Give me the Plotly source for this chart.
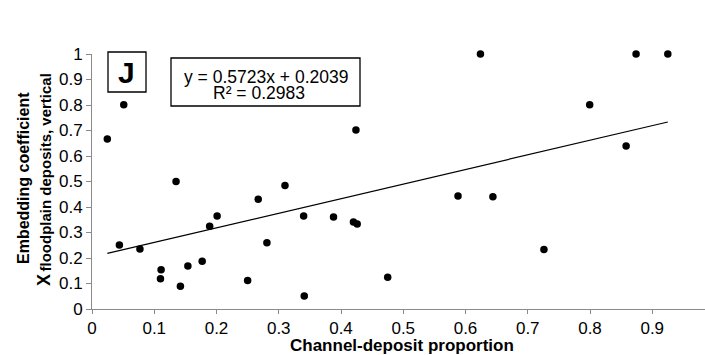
import plotly.graph_objects as go

# Data
x_vals = [0.0246, 0.051, 0.044, 0.077, 0.111, 0.110, 0.135, 0.142, 0.154, 0.177,
          0.189, 0.201, 0.250, 0.267, 0.281, 0.310, 0.340, 0.341, 0.388, 0.420,
          0.426, 0.424, 0.475, 0.588, 0.624, 0.644, 0.726, 0.7995, 0.858, 0.874, 0.925]
y_vals = [0.667, 0.801, 0.251, 0.235, 0.154, 0.119, 0.500, 0.089, 0.169, 0.187,
          0.325, 0.365, 0.112, 0.430, 0.260, 0.484, 0.365, 0.051, 0.361, 0.341,
          0.333, 0.702, 0.125, 0.443, 1.000, 0.440, 0.233, 0.801, 0.639, 1.000, 1.000]
slope = 0.5723
intercept = 0.2039
x_ticks = [0, 0.1, 0.2, 0.3, 0.4, 0.5, 0.6, 0.7, 0.8, 0.9]
x_tick_labels = ["0", "0.1", "0.2", "0.3", "0.4", "0.5", "0.6", "0.7", "0.8", "0.9"]
y_ticks = [0, 0.1, 0.2, 0.3, 0.4, 0.5, 0.6, 0.7, 0.8, 0.9, 1]
y_tick_labels = ["0", "0.1", "0.2", "0.3", "0.4", "0.5", "0.6", "0.7", "0.8", "0.9", "1"]

W, H = 705, 355
L, R, T, B = 92, 0, 54, 46
PW, PH = W - L - R, H - T - B

def px(xp):
    return (xp - L) / PW

def py(yp):
    return (H - B - yp) / PH

FONT = "Liberation Sans, Arial, sans-serif"
AX = "#8a8a8a"

trend_x = [min(x_vals), max(x_vals)]
trend_y = [slope * v + intercept for v in trend_x]

fig = go.Figure()
fig.add_trace(go.Scatter(x=trend_x, y=trend_y, mode="lines",
                         line=dict(color="black", width=1.2), showlegend=False,
                         hoverinfo="skip"))
fig.add_trace(go.Scatter(x=x_vals, y=y_vals, mode="markers",
                         marker=dict(color="black", size=7.5), showlegend=False,
                         cliponaxis=False))

fig.update_layout(
    width=W, height=H,
    margin=dict(l=L, r=R, t=T, b=B),
    paper_bgcolor="white", plot_bgcolor="white",
    font=dict(family=FONT, color="black", size=16),
    xaxis=dict(range=[0, PW / 622.5], tickvals=x_ticks, ticktext=x_tick_labels,
               showline=True, linecolor=AX, linewidth=1, ticks="outside",
               ticklen=4, tickcolor=AX, showgrid=False, zeroline=False,
               tickfont=dict(size=17, family=FONT)),
    yaxis=dict(range=[0, 1], tickvals=y_ticks, ticktext=y_tick_labels,
               showline=True, linecolor=AX, linewidth=1, ticks="outside",
               ticklen=5, tickcolor=AX, showgrid=False, zeroline=False,
               tickfont=dict(size=17, family=FONT)),
)

shapes = [
    dict(type="rect", xref="paper", yref="paper", x0=px(108), x1=px(146),
         y0=py(92), y1=py(52), line=dict(color="black", width=1.3)),
    dict(type="rect", xref="paper", yref="paper", x0=px(171), x1=px(360),
         y0=py(106), y1=py(58), line=dict(color="black", width=1.3)),
]
fig.update_layout(shapes=shapes)

ann = [
    dict(text="<b>J</b>", x=px(126.5), y=py(73), font=dict(size=30)),
    dict(text="y = 0.5723x + 0.2039", x=px(266), y=py(76.5), font=dict(size=17.5)),
    dict(text="R² = 0.2983", x=px(258.5), y=py(93), font=dict(size=17.5)),
    dict(text="<b>Channel-deposit proportion</b>", x=px(402), y=py(345), font=dict(size=17)),
    dict(text="<b>Embedding coefficient</b>", x=px(23), y=py(178), textangle=-90,
         font=dict(size=16)),
    dict(text="<b>X</b>", x=px(44), y=py(280), textangle=-90, font=dict(size=18)),
    dict(text="<b>floodplain deposits, vertical</b>", x=px(44.5), y=py(173), textangle=-90,
         font=dict(size=15)),
]
for a in ann:
    a.update(xref="paper", yref="paper", showarrow=False, xanchor="center", yanchor="middle")
fig.update_layout(annotations=ann)

fig.write_html("out.html")
